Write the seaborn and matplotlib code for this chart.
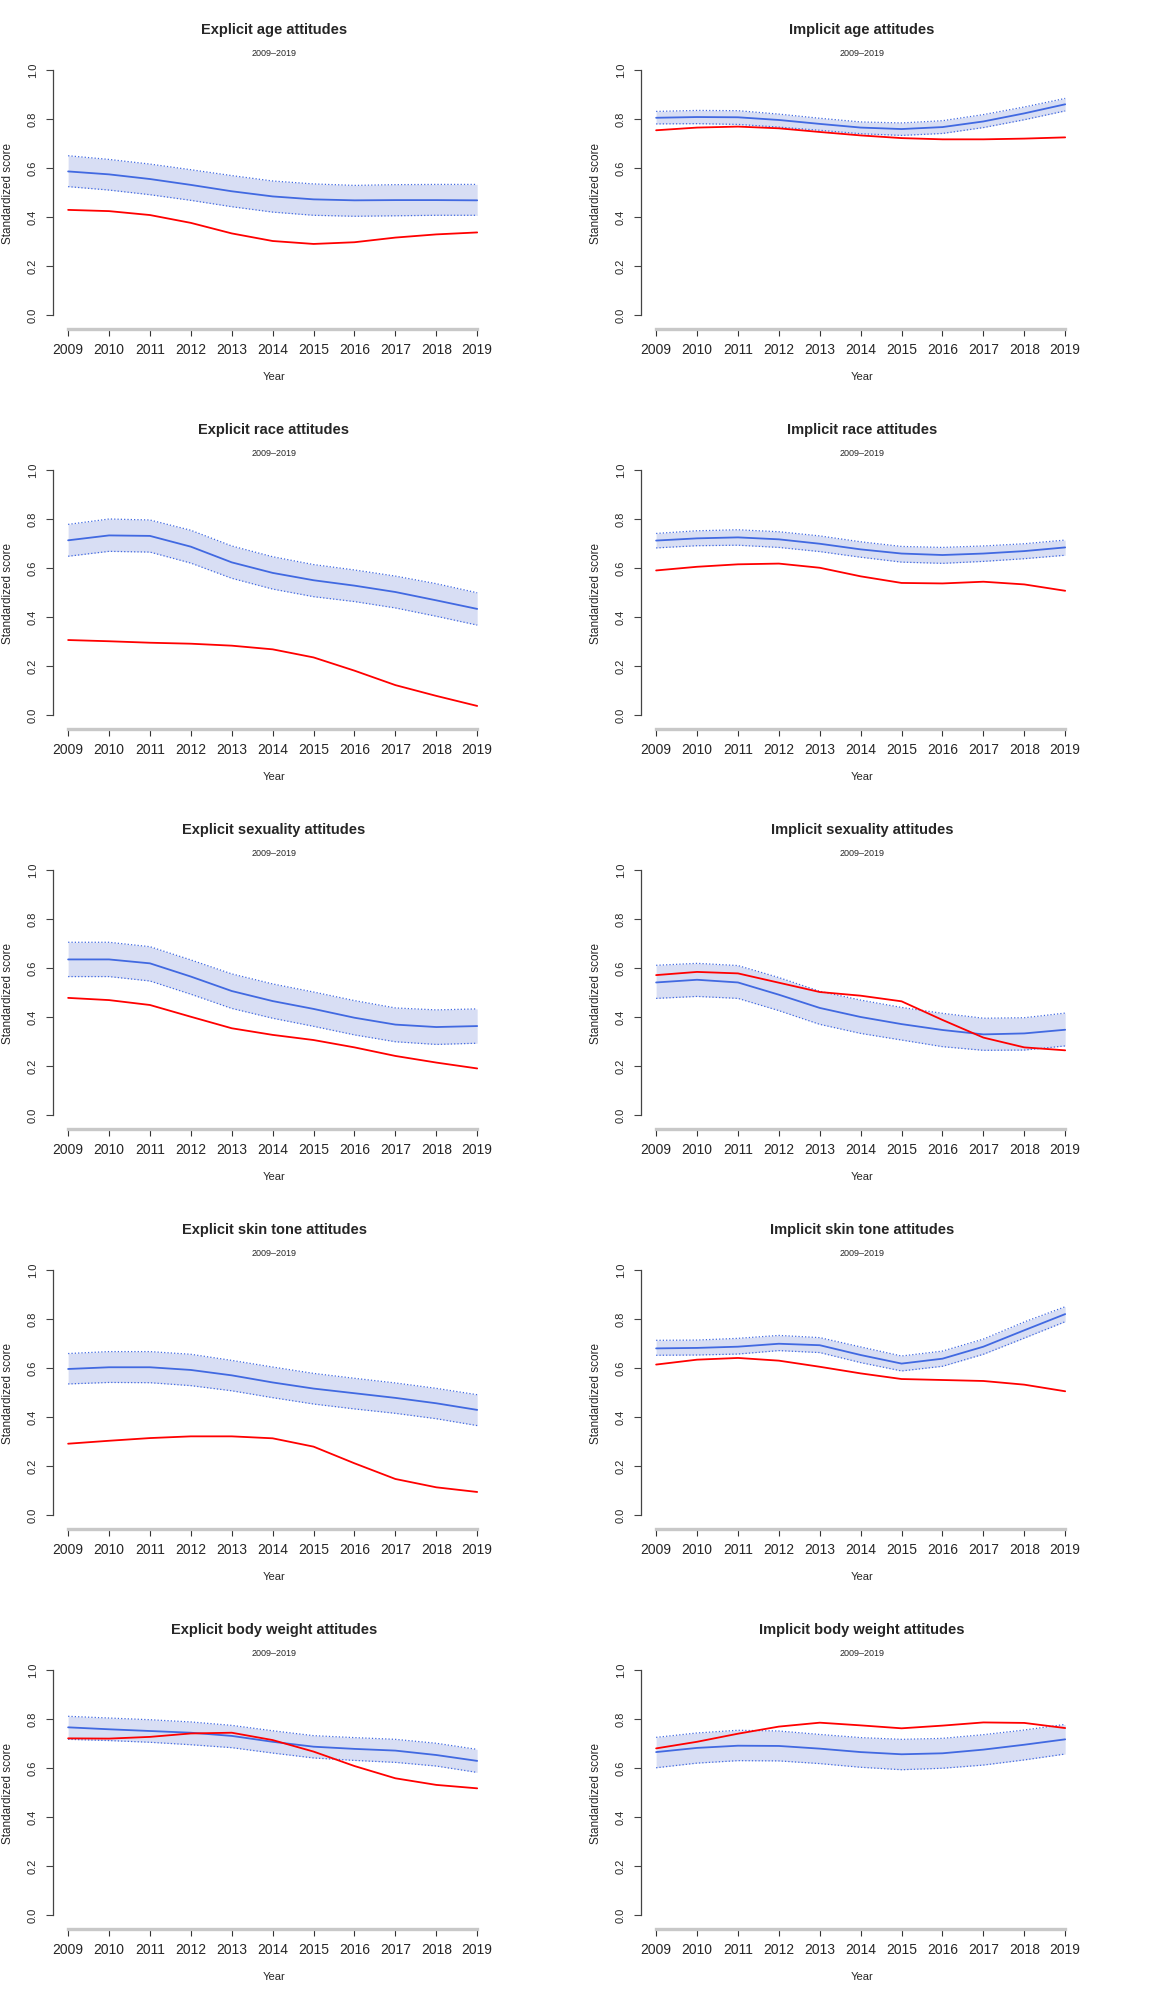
import seaborn as sns
import matplotlib.pyplot as plt
import pandas as pd

years = [2009, 2010, 2011, 2012, 2013, 2014, 2015, 2016, 2017, 2018, 2019]

# blue = model fit with band, red = second series
age_exp_fit = [0.586, 0.574, 0.555, 0.531, 0.505, 0.484, 0.472, 0.468, 0.469, 0.469, 0.468]
age_exp_hi = [0.650, 0.635, 0.616, 0.593, 0.569, 0.547, 0.535, 0.529, 0.532, 0.533, 0.533]
age_exp_lo = [0.524, 0.510, 0.491, 0.468, 0.442, 0.420, 0.407, 0.403, 0.405, 0.407, 0.407]
age_exp_red = [0.429, 0.424, 0.408, 0.376, 0.333, 0.302, 0.290, 0.297, 0.316, 0.329, 0.337]

age_imp_fit = [0.805, 0.808, 0.807, 0.796, 0.780, 0.765, 0.759, 0.767, 0.790, 0.823, 0.860]
age_imp_hi = [0.831, 0.835, 0.834, 0.820, 0.803, 0.788, 0.784, 0.793, 0.818, 0.849, 0.884]
age_imp_lo = [0.780, 0.781, 0.778, 0.767, 0.754, 0.740, 0.733, 0.741, 0.765, 0.797, 0.833]
age_imp_red = [0.754, 0.765, 0.769, 0.762, 0.747, 0.733, 0.722, 0.717, 0.717, 0.720, 0.725]

race_exp_fit = [0.713, 0.733, 0.731, 0.687, 0.623, 0.580, 0.550, 0.528, 0.502, 0.468, 0.433]
race_exp_hi = [0.778, 0.800, 0.796, 0.754, 0.690, 0.646, 0.614, 0.592, 0.567, 0.536, 0.499]
race_exp_lo = [0.648, 0.668, 0.665, 0.620, 0.558, 0.514, 0.483, 0.463, 0.437, 0.403, 0.367]
race_exp_red = [0.306, 0.301, 0.295, 0.291, 0.283, 0.268, 0.235, 0.181, 0.122, 0.078, 0.037]

race_imp_fit = [0.712, 0.721, 0.725, 0.717, 0.699, 0.676, 0.659, 0.653, 0.659, 0.669, 0.684]
race_imp_hi = [0.741, 0.752, 0.756, 0.748, 0.731, 0.707, 0.688, 0.684, 0.690, 0.699, 0.714]
race_imp_lo = [0.682, 0.691, 0.693, 0.684, 0.667, 0.644, 0.624, 0.619, 0.627, 0.638, 0.652]
race_imp_red = [0.590, 0.605, 0.615, 0.618, 0.601, 0.566, 0.539, 0.537, 0.544, 0.533, 0.507]

sex_exp_fit = [0.635, 0.635, 0.619, 0.565, 0.506, 0.465, 0.433, 0.397, 0.369, 0.359, 0.363]
sex_exp_hi = [0.705, 0.705, 0.687, 0.633, 0.576, 0.535, 0.502, 0.467, 0.437, 0.429, 0.433]
sex_exp_lo = [0.565, 0.565, 0.547, 0.493, 0.435, 0.395, 0.362, 0.327, 0.299, 0.288, 0.293]
sex_exp_red = [0.478, 0.469, 0.449, 0.401, 0.354, 0.327, 0.306, 0.276, 0.241, 0.214, 0.190]

sex_imp_fit = [0.541, 0.552, 0.541, 0.491, 0.437, 0.400, 0.371, 0.347, 0.329, 0.333, 0.348]
sex_imp_hi = [0.611, 0.619, 0.610, 0.561, 0.505, 0.469, 0.439, 0.415, 0.395, 0.397, 0.416]
sex_imp_lo = [0.476, 0.484, 0.476, 0.426, 0.370, 0.333, 0.306, 0.279, 0.264, 0.265, 0.282]
sex_imp_red = [0.571, 0.584, 0.578, 0.540, 0.502, 0.487, 0.464, 0.388, 0.316, 0.276, 0.264]

skin_exp_fit = [0.596, 0.603, 0.603, 0.592, 0.570, 0.541, 0.516, 0.497, 0.478, 0.456, 0.429]
skin_exp_hi = [0.659, 0.667, 0.667, 0.656, 0.631, 0.604, 0.578, 0.558, 0.539, 0.517, 0.491]
skin_exp_lo = [0.535, 0.541, 0.540, 0.528, 0.507, 0.479, 0.453, 0.433, 0.415, 0.393, 0.365]
skin_exp_red = [0.291, 0.303, 0.314, 0.321, 0.321, 0.313, 0.279, 0.211, 0.147, 0.113, 0.094]

skin_imp_fit = [0.680, 0.682, 0.687, 0.699, 0.693, 0.653, 0.618, 0.638, 0.687, 0.754, 0.820]
skin_imp_hi = [0.713, 0.714, 0.721, 0.733, 0.724, 0.686, 0.649, 0.669, 0.718, 0.788, 0.850]
skin_imp_lo = [0.652, 0.653, 0.657, 0.671, 0.663, 0.622, 0.588, 0.607, 0.656, 0.722, 0.789]
skin_imp_red = [0.614, 0.634, 0.641, 0.630, 0.605, 0.578, 0.555, 0.551, 0.547, 0.532, 0.505]

wt_exp_fit = [0.766, 0.758, 0.751, 0.744, 0.731, 0.707, 0.687, 0.678, 0.671, 0.653, 0.629]
wt_exp_hi = [0.811, 0.804, 0.797, 0.788, 0.774, 0.752, 0.732, 0.724, 0.717, 0.701, 0.676]
wt_exp_lo = [0.717, 0.712, 0.705, 0.695, 0.683, 0.661, 0.641, 0.631, 0.623, 0.608, 0.582]
wt_exp_red = [0.721, 0.720, 0.727, 0.741, 0.744, 0.714, 0.667, 0.608, 0.558, 0.531, 0.517]

wt_imp_fit = [0.665, 0.682, 0.691, 0.690, 0.679, 0.665, 0.656, 0.660, 0.675, 0.695, 0.717]
wt_imp_hi = [0.725, 0.743, 0.754, 0.751, 0.737, 0.724, 0.717, 0.721, 0.736, 0.755, 0.778]
wt_imp_lo = [0.601, 0.620, 0.630, 0.629, 0.618, 0.603, 0.593, 0.599, 0.612, 0.633, 0.657]
wt_imp_red = [0.680, 0.707, 0.740, 0.769, 0.785, 0.774, 0.762, 0.773, 0.786, 0.784, 0.763]

titles = ["Explicit age attitudes", "Implicit age attitudes",
          "Explicit race attitudes", "Implicit race attitudes",
          "Explicit sexuality attitudes", "Implicit sexuality attitudes",
          "Explicit skin tone attitudes", "Implicit skin tone attitudes",
          "Explicit body weight attitudes", "Implicit body weight attitudes"]

series = [
    (age_exp_fit, age_exp_hi, age_exp_lo, age_exp_red),
    (age_imp_fit, age_imp_hi, age_imp_lo, age_imp_red),
    (race_exp_fit, race_exp_hi, race_exp_lo, race_exp_red),
    (race_imp_fit, race_imp_hi, race_imp_lo, race_imp_red),
    (sex_exp_fit, sex_exp_hi, sex_exp_lo, sex_exp_red),
    (sex_imp_fit, sex_imp_hi, sex_imp_lo, sex_imp_red),
    (skin_exp_fit, skin_exp_hi, skin_exp_lo, skin_exp_red),
    (skin_imp_fit, skin_imp_hi, skin_imp_lo, skin_imp_red),
    (wt_exp_fit, wt_exp_hi, wt_exp_lo, wt_exp_red),
    (wt_imp_fit, wt_imp_hi, wt_imp_lo, wt_imp_red),
]

sns.set_style("ticks")
plt.rcParams['font.family'] = ['Liberation Sans', 'DejaVu Sans']

W, H = 1176, 2000
PW, PH = 588, 400
BLUE = "#4169E1"
FILL = "#D8DEF4"

fig = plt.figure(figsize=(W / 100, H / 100), dpi=100)


def draw_panel(idx, title, fit, hi, lo, red):
    row, col = divmod(idx, 2)
    x0, y0 = col * PW, row * PH
    ax = fig.add_axes([(x0 + 53) / W, 1 - (y0 + 315) / H, 425 / W, 245 / H])
    df = pd.DataFrame({"year": years, "fit": fit, "hi": hi, "lo": lo, "red": red})

    ax.fill_between(df["year"], df["lo"], df["hi"], color=FILL, linewidth=0)
    sns.lineplot(data=df, x="year", y="hi", ax=ax, color=BLUE, linewidth=0.9, linestyle=":")
    sns.lineplot(data=df, x="year", y="lo", ax=ax, color=BLUE, linewidth=0.9, linestyle=":")
    sns.lineplot(data=df, x="year", y="fit", ax=ax, color=BLUE, linewidth=1.3)
    sns.lineplot(data=df, x="year", y="red", ax=ax, color="red", linewidth=1.3)

    ax.set_xlim(2008.63, 2019.02)
    ax.set_ylim(0, 1)
    ax.set_xticks(years)
    ax.set_xticklabels([str(y) for y in years], fontsize=7.8)
    ax.set_yticks([0, 0.2, 0.4, 0.6, 0.8, 1.0])
    ax.set_yticklabels(["0.0", "0.2", "0.4", "0.6", "0.8", "1.0"], fontsize=8,
                       rotation=90, va="center")
    ax.set_xlabel("")
    ax.set_ylabel("")
    sns.despine(ax=ax)
    ax.spines["bottom"].set_position(("outward", 10))
    ax.spines["bottom"].set_bounds(2009, 2019)
    ax.spines["bottom"].set_color("#c8c8c8")
    ax.spines["bottom"].set_linewidth(2.4)
    ax.spines["left"].set_color("#444444")
    ax.spines["left"].set_linewidth(0.9)
    ax.tick_params(axis="x", length=5, width=0.8, color="#333333", pad=5)
    ax.tick_params(axis="y", length=5, width=0.8, color="#444444", pad=6)
    ax.set_facecolor("white")

    def fx(px):
        return (x0 + px) / W

    def fy(py):
        return 1 - (y0 + py) / H

    fig.text(fx(274), fy(30), title, ha="center", va="center", fontsize=10.5, fontweight="bold")
    fig.text(fx(274), fy(54), "2009\u20132019", ha="center", va="center", fontsize=6.5)
    fig.text(fx(274), fy(377), "Year", ha="center", va="center", fontsize=8)
    fig.text(fx(8), fy(193), "Standardized score", ha="center", va="center",
             rotation=90, fontsize=8.5)


for i, (t, s) in enumerate(zip(titles, series)):
    draw_panel(i, t, *s)

fig.savefig("out.png", dpi=100, facecolor="white")
